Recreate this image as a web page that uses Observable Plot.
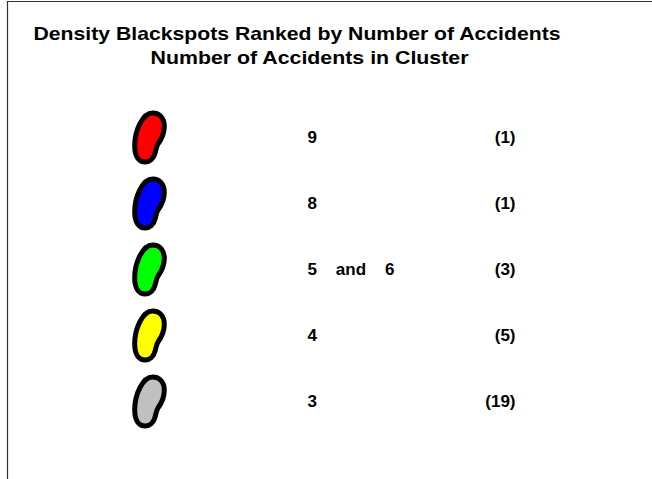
<!DOCTYPE html>
<html>
<head>
<meta charset="utf-8">
<script src="https://cdn.jsdelivr.net/npm/d3@7"></script>
<script src="https://cdn.jsdelivr.net/npm/@observablehq/plot@0.6"></script>
<style>
  html, body { margin: 0; padding: 0; background: #fff; }
</style>
</head>
<body>
<div id="chart"></div>
<script>
// ---- data ----
const titleLines = ["Density Blackspots Ranked by Number of Accidents", "Number of Accidents in Cluster"];
const rankLabels = ["9", "8", "5 and 6", "4", "3"];
const clusterCounts = [1, 1, 3, 5, 19];
const blobColors = ["#ff0000", "#0000ff", "#00ff00", "#ffff00", "#c0c0c0"];

const rows = rankLabels.map((label, i) => ({label, count: clusterCounts[i], color: blobColors[i]}));

// custom "blob" symbol (bean-like cluster outline), scaled by r
const blob = {
  draw(context, size) {
    const s = Math.sqrt(size / Math.PI) / 24;
    const p = (x, y) => [x * s, y * s];
    context.moveTo(...p(3, -24));
    context.bezierCurveTo(...p(10, -24), ...p(14.5, -19), ...p(14.5, -11));
    context.bezierCurveTo(...p(14.5, -4), ...p(11.5, 2), ...p(8.5, 6));
    context.bezierCurveTo(...p(6.5, 9), ...p(6.5, 12), ...p(5.5, 15));
    context.bezierCurveTo(...p(4, 21), ...p(0, 24), ...p(-4, 24));
    context.bezierCurveTo(...p(-11, 24), ...p(-14.5, 18), ...p(-14.5, 8));
    context.bezierCurveTo(...p(-14.5, -6), ...p(-7, -24), ...p(3, -24));
    context.closePath();
  }
};

const font = "'Liberation Sans', Arial, Helvetica, sans-serif";
const nb = "\u00a0";

const chart = Plot.plot({
  width: 652,
  height: 479,
  marginLeft: 7,
  marginTop: 1,
  marginRight: 0,
  marginBottom: 0,
  style: {fontFamily: font, background: "#fff", color: "#000"},
  x: {axis: null, domain: [0, 1]},
  y: {type: "point", domain: rankLabels, range: [137, 401], padding: 0, axis: null},
  color: {type: "identity"},
  marks: [
    Plot.frame({anchor: "top", stroke: "#333", strokeWidth: 1.2}),
    Plot.frame({anchor: "left", stroke: "#333", strokeWidth: 1.2}),
    Plot.text([titleLines[0]], {frameAnchor: "top-left", lineAnchor: "middle", dx: 26, dy: 32.5, text: d => d, textAnchor: "start", fontSize: 18.5, fontWeight: "bold", fill: "#000"}),
    Plot.text([titleLines[1]], {frameAnchor: "top-left", lineAnchor: "middle", dx: 143, dy: 57, text: d => d, textAnchor: "start", fontSize: 18.5, fontWeight: "bold", fill: "#000"}),
    Plot.dot(rows, {y: "label", frameAnchor: "left", dx: 142, symbol: blob, r: 24.5, fill: d => d.color, stroke: "#000", strokeWidth: 5}),
    Plot.text(rows, {y: "label", frameAnchor: "left", dx: 300, text: d => d.label.replaceAll(" ", nb + nb + nb + nb), textAnchor: "start", fontSize: 17, fontWeight: "bold", fill: "#000"}),
    Plot.text(rows, {y: "label", frameAnchor: "left", dx: 508, text: d => `(${d.count})`, textAnchor: "end", fontSize: 17, fontWeight: "bold", fill: "#000"})
  ]
});

// stretch title lines to the reference's measured widths
const titleWidths = [527, 318];
d3.select(chart).selectAll("text").each(function() {
  const i = titleLines.indexOf(this.textContent);
  if (i >= 0) {
    this.setAttribute("textLength", titleWidths[i]);
    this.setAttribute("lengthAdjust", "spacingAndGlyphs");
  }
});

document.getElementById("chart").appendChild(chart);
</script>
</body>
</html>
